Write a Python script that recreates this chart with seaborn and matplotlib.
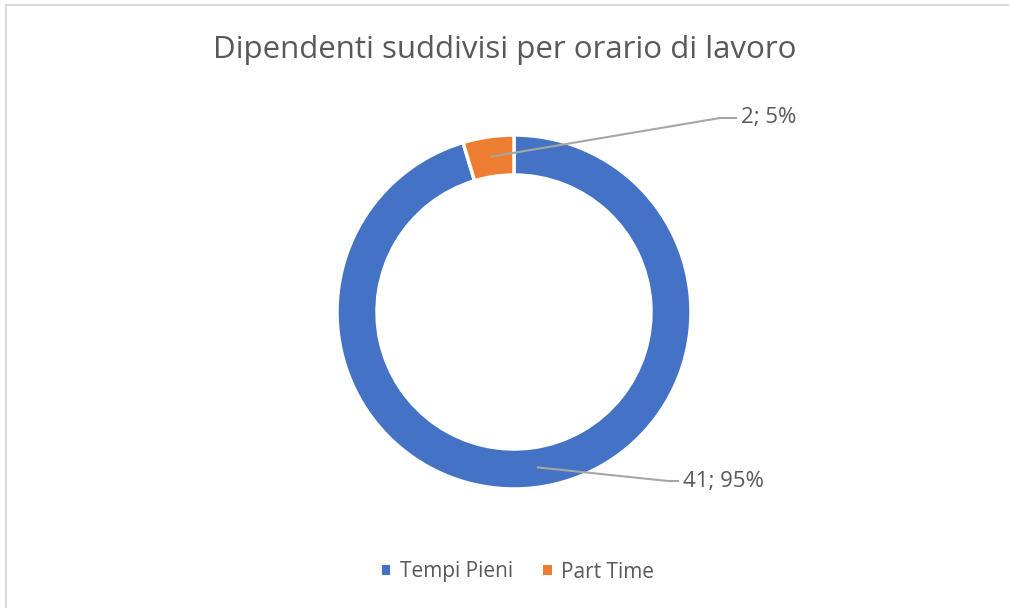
import numpy as np
import matplotlib
matplotlib.use("Agg")
import matplotlib.pyplot as plt
import seaborn as sns
from matplotlib.patches import Patch
from matplotlib.lines import Line2D

categories = ["Tempi Pieni", "Part Time"]
values = [41, 2]
percent_labels = ["95%", "5%"]
colors = ["#4472C4", "#ED7D31"]

sns.set_theme(style="white")
plt.rcParams["font.family"] = ["Open Sans", "DejaVu Sans"]
text_color = "#595959"

W, H = 1009, 608
fig = plt.figure(figsize=(W / 100, H / 100), dpi=100)
ax = fig.add_axes([0, 0, 1, 1])

cx, cy = 514, H - 312
R = 177
ring = 40
wedges, _ = ax.pie(values, colors=colors, startangle=90, counterclock=False,
                   radius=R, center=(cx, cy), frame=True,
                   wedgeprops=dict(width=ring, edgecolor="white", linewidth=2.5))
ax.set_xlim(0, W)
ax.set_ylim(0, H)
ax.set_aspect("equal")
ax.axis("off")

# frame lines (top, left)
fig.add_artist(Line2D([6 / W, 1], [1 - 4.5 / H, 1 - 4.5 / H], color="#d9d9d9", lw=1.5))
fig.add_artist(Line2D([6 / W, 6 / W], [0, 1 - 4.5 / H], color="#d9d9d9", lw=1.5))

fig.text(0.5, 1 - 50 / H, "Dipendenti suddivisi per orario di lavoro",
         ha="center", va="center", fontsize=22.5, color=text_color)

label_pos = {0: (683, H - 482), 1: (741, H - 118)}
elbow = {0: (668, H - 481), 1: (720, H - 118)}
for i, w in enumerate(wedges):
    ang = np.deg2rad((w.theta1 + w.theta2) / 2)
    r_mid = R - 20
    ax_pt = (cx + r_mid * np.cos(ang), cy + r_mid * np.sin(ang))
    ex, ey = elbow[i]
    tx, ty = label_pos[i]
    ax.plot([ax_pt[0], ex, tx - 4], [ax_pt[1], ey, ey], color="#a6a6a6", lw=1.5,
            solid_capstyle="butt")
    ax.text(tx, ty, f"{values[i]}; {percent_labels[i]}", ha="left", va="center",
            fontsize=16, color=text_color)

handles = [Patch(facecolor=c, edgecolor="none") for c in colors]
leg = fig.legend(handles, categories, loc="center", bbox_to_anchor=(518 / W, 1 - 572 / H),
                 ncol=2, frameon=False, fontsize=15, handlelength=0.4, handleheight=0.4,
                 handletextpad=0.45, columnspacing=1.45, labelcolor=text_color)

fig.savefig("out.png", dpi=100, facecolor="white")
